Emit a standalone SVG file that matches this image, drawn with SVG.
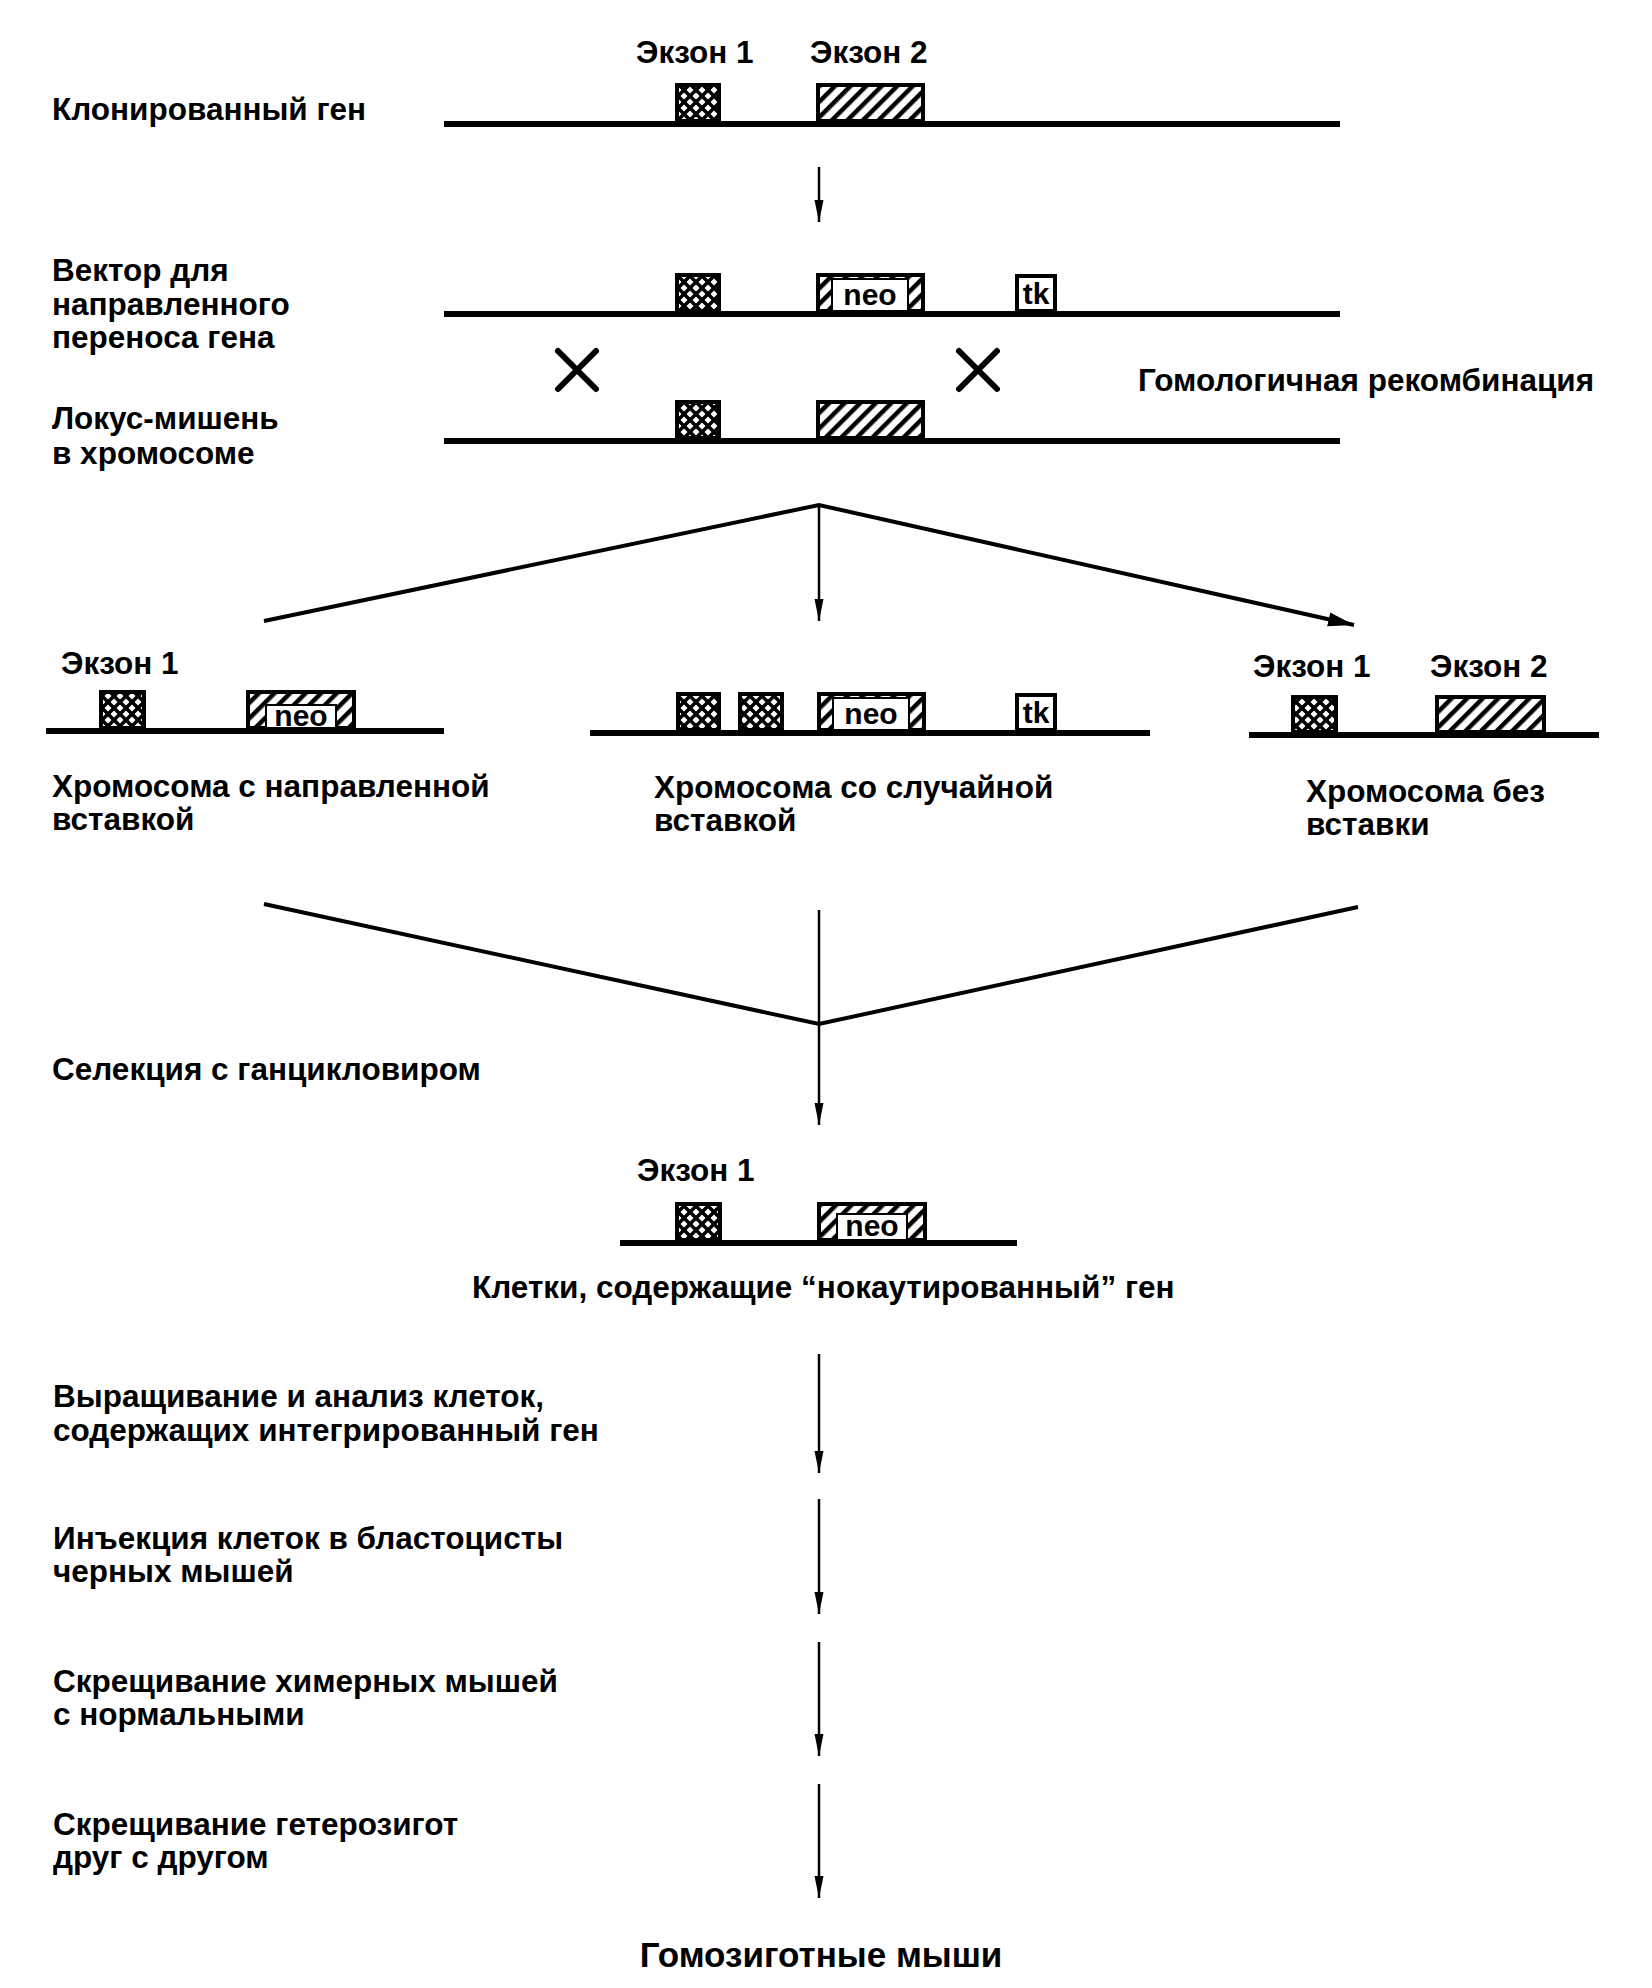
<svg xmlns="http://www.w3.org/2000/svg" width="1652" height="1988" viewBox="0 0 1652 1988">
<style>
text{font-family:"Liberation Sans",Arial,sans-serif;font-weight:bold;font-size:31.5px;fill:#000}
.lbl{font-size:30px}
.big{font-size:35px}
.dna{stroke:#000;stroke-width:6;fill:none}
.ex1{fill:url(#cross);stroke:#000;stroke-width:4}
.ex2{fill:url(#hatch);stroke:#000;stroke-width:4}
.inner{fill:#fff;stroke:#000;stroke-width:2}
.tk{fill:#fff;stroke:#000;stroke-width:4}
.arr{stroke:#000;stroke-width:2.5;fill:none}
.fan{stroke:#000;stroke-width:4;fill:none}
.xm{stroke:#000;stroke-width:6;stroke-linecap:round}
</style>
<defs>
<pattern id="cross" patternUnits="userSpaceOnUse" width="12" height="12">
<rect width="12" height="12" fill="#000"/>
<path d="M6,2.5 L9.5,6 L6,9.5 L2.5,6 Z M0,-3.5 L3.5,0 L0,3.5 L-3.5,0 Z M12,-3.5 L15.5,0 L12,3.5 L8.5,0 Z M0,8.5 L3.5,12 L0,15.5 L-3.5,12 Z M12,8.5 L15.5,12 L12,15.5 L8.5,12 Z" fill="#fff"/>
</pattern>
<pattern id="hatch" patternUnits="userSpaceOnUse" width="11" height="11" patternTransform="rotate(45)">
<rect width="11" height="11" fill="#fff"/>
<rect x="0" y="0" width="4.5" height="11" fill="#000"/>
</pattern>
<marker id="ah" markerUnits="userSpaceOnUse" markerWidth="24" markerHeight="10" refX="22" refY="5" orient="auto">
<path d="M0,0.5 L22,5 L0,9.5 Z" fill="#000"/>
</marker>
<marker id="ahb" markerUnits="userSpaceOnUse" markerWidth="28" markerHeight="16" refX="26" refY="8" orient="auto">
<path d="M0,1 L26,8 L0,15 Z" fill="#000"/>
</marker>
</defs>

<g id="row1">
<text x="636" y="63">Экзон 1</text>
<text x="810" y="63">Экзон 2</text>
<text x="52" y="120">Клонированный ген</text>
<line class="dna" x1="444" y1="124" x2="1340" y2="124"/>
<rect class="ex1" x="677" y="85" width="42" height="36"/>
<rect class="ex2" x="818" y="85" width="105" height="36"/>
</g>

<g id="row2">
<text x="52" y="281">Вектор для</text>
<text x="52" y="315">направленного</text>
<text x="52" y="348">переноса гена</text>
<line class="dna" x1="444" y1="314" x2="1340" y2="314"/>
<rect class="ex1" x="677" y="275" width="42" height="36"/>
<rect class="ex2" x="818" y="275" width="105" height="36"/>
<rect class="inner" x="832" y="279" width="76" height="32"/>
<text class="lbl" x="870" y="305" text-anchor="middle">neo</text>
<rect class="tk" x="1017" y="276" width="38" height="35"/>
<text class="lbl" x="1036" y="304" text-anchor="middle">tk</text>
</g>

<g id="recomb">
<line class="xm" x1="558" y1="351" x2="596" y2="389"/>
<line class="xm" x1="596" y1="351" x2="558" y2="389"/>
<line class="xm" x1="959" y1="351" x2="997" y2="389"/>
<line class="xm" x1="997" y1="351" x2="959" y2="389"/>
<text x="1138" y="391">Гомологичная рекомбинация</text>
</g>

<g id="row3">
<text x="52" y="429">Локус-мишень</text>
<text x="52" y="464">в хромосоме</text>
<line class="dna" x1="444" y1="441" x2="1340" y2="441"/>
<rect class="ex1" x="677" y="402" width="42" height="36"/>
<rect class="ex2" x="818" y="402" width="105" height="36"/>
</g>

<g id="row4-left">
<text x="61" y="674">Экзон 1</text>
<line class="dna" x1="46" y1="731" x2="444" y2="731"/>
<rect class="ex1" x="101" y="692" width="43" height="36"/>
<rect class="ex2" x="248" y="692" width="106" height="36"/>
<rect class="inner" x="266" y="705" width="70" height="23"/>
<text class="lbl" x="301" y="726" text-anchor="middle">neo</text>
<text x="52" y="797">Хромосома с направленной</text>
<text x="52" y="830">вставкой</text>
</g>

<g id="row4-mid">
<line class="dna" x1="590" y1="733" x2="1150" y2="733"/>
<rect class="ex1" x="678" y="694" width="41" height="36"/>
<rect class="ex1" x="740" y="694" width="42" height="36"/>
<rect class="ex2" x="819" y="694" width="105" height="36"/>
<rect class="inner" x="833" y="698" width="76" height="32"/>
<text class="lbl" x="871" y="724" text-anchor="middle">neo</text>
<rect class="tk" x="1017" y="695" width="38" height="35"/>
<text class="lbl" x="1036" y="723" text-anchor="middle">tk</text>
<text x="654" y="798">Хромосома со случайной</text>
<text x="654" y="831">вставкой</text>
</g>

<g id="row4-right">
<text x="1253" y="677">Экзон 1</text>
<text x="1430" y="677">Экзон 2</text>
<line class="dna" x1="1249" y1="735" x2="1599" y2="735"/>
<rect class="ex1" x="1293" y="697" width="43" height="35"/>
<rect class="ex2" x="1437" y="697" width="107" height="35"/>
<text x="1306" y="802">Хромосома без</text>
<text x="1306" y="835">вставки</text>
</g>

<g id="selection">
<text x="52" y="1080">Селекция с ганцикловиром</text>
</g>

<g id="row5">
<text x="637" y="1181">Экзон 1</text>
<line class="dna" x1="620" y1="1243" x2="1017" y2="1243"/>
<rect class="ex1" x="677" y="1204" width="43" height="36"/>
<rect class="ex2" x="819" y="1204" width="106" height="36"/>
<rect class="inner" x="837" y="1214" width="70" height="26"/>
<text class="lbl" x="872" y="1236" text-anchor="middle">neo</text>
<text x="472" y="1298">Клетки, содержащие “нокаутированный” ген</text>
</g>

<g id="steps">
<text x="53" y="1407">Выращивание и анализ клеток,</text>
<text x="53" y="1441">содержащих интегрированный ген</text>
<text x="53" y="1549">Инъекция клеток в бластоцисты</text>
<text x="53" y="1582">черных мышей</text>
<text x="53" y="1692">Скрещивание химерных мышей</text>
<text x="53" y="1725">с нормальными</text>
<text x="53" y="1835">Скрещивание гетерозигот</text>
<text x="53" y="1868">друг с другом</text>
<text class="big" x="821" y="1967" text-anchor="middle">Гомозиготные мыши</text>
</g>

<g id="connectors">
<line class="arr" x1="819" y1="167" x2="819" y2="222" marker-end="url(#ah)"/>
<polyline class="fan" points="264,621 819,505 1354,625" marker-end="url(#ahb)"/>
<line class="arr" x1="819" y1="505" x2="819" y2="621" marker-end="url(#ah)"/>
<polyline class="fan" points="264,904 819,1024 1358,907"/>
<line class="arr" x1="819" y1="910" x2="819" y2="1125" marker-end="url(#ah)"/>
<line class="arr" x1="819" y1="1354" x2="819" y2="1473" marker-end="url(#ah)"/>
<line class="arr" x1="819" y1="1499" x2="819" y2="1614" marker-end="url(#ah)"/>
<line class="arr" x1="819" y1="1642" x2="819" y2="1756" marker-end="url(#ah)"/>
<line class="arr" x1="819" y1="1784" x2="819" y2="1898" marker-end="url(#ah)"/>
</g>
</svg>
